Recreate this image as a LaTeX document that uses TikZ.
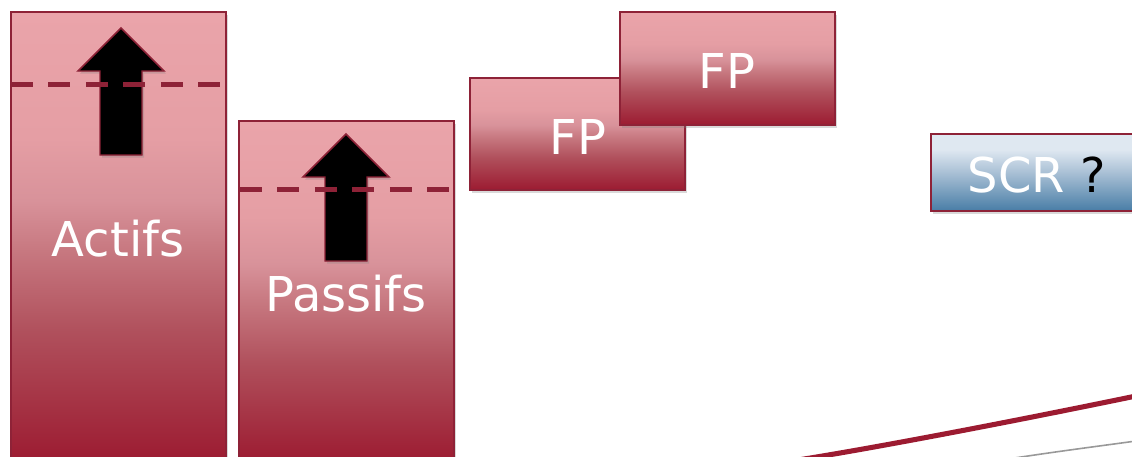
\documentclass[tikz,border=0pt]{standalone}
\usepackage{fontspec}
\setmainfont{DejaVu Sans}
\usetikzlibrary{shadows}

\definecolor{pinktop}{HTML}{EAA4AA}
\definecolor{pinkhigh}{HTML}{E59EA4}
\definecolor{pinklow}{HTML}{D8929A}
\definecolor{pinkmid}{HTML}{C77880}
\definecolor{rosedeep}{HTML}{B0505C}
\definecolor{wine}{HTML}{9C1B31}
\definecolor{edgered}{HTML}{8E2237}
\definecolor{bluetop}{HTML}{DFE8F1}
\definecolor{bluemid}{HTML}{A9C0D5}
\definecolor{bluebot}{HTML}{487DA6}

% pale at the top, then fading to deep red at the bottom
% (the filled path spans 25bp..75bp of the shading)
\pgfdeclareverticalshading{redfade}{100bp}{%
  color(0bp)=(wine); color(25bp)=(wine); color(39.5bp)=(rosedeep); color(48.5bp)=(pinkmid);
  color(54bp)=(pinklow); color(61bp)=(pinkhigh); color(75bp)=(pinktop); color(100bp)=(pinktop)}
\pgfdeclareverticalshading{bluefade}{100bp}{%
  color(0bp)=(bluebot); color(25bp)=(bluebot); color(50bp)=(bluemid); color(65bp)=(bluetop); color(100bp)=(bluetop)}

\tikzset{
  softshadow/.style={drop shadow={shadow xshift=1.5pt, shadow yshift=-2pt, opacity=0.3}},
  redbox/.style={draw=edgered, line width=1.2pt, shading=redfade, softshadow},
  bluebox/.style={draw=edgered, line width=1.2pt, shading=bluefade, softshadow},
  uparrow/.style={fill=black, draw=edgered, line width=1.1pt, line join=miter, softshadow},
  level/.style={draw=edgered, line width=3.75pt, dash pattern=on 16.5pt off 11.6pt},
  lbl/.style={text=white, font=\fontsize{36}{40}\selectfont, anchor=base, inner sep=0pt},
}

\begin{document}
\begin{tikzpicture}[x=0.75pt, y=-0.75pt]
  \useasboundingbox (0,0) rectangle (1132,457);
  \clip (0,0) rectangle (1132,457);

  % assets column with its rising level
  \path[redbox] (11,12) rectangle (226,462);
  \path[uparrow] (121,28) -- (164,71) -- (142,71) -- (142,155) -- (100,155) -- (100,71) -- (78,71) -- cycle;
  \draw[level] (11,84) -- (222,84);
  \node[lbl] (actifs) at (118,256) {Actifs};

  % liabilities column with its rising level
  \path[redbox] (239,121) rectangle (454,462);
  \path[uparrow] (346,134) -- (389,177) -- (367,177) -- (367,261) -- (325,261) -- (325,177) -- (303,177) -- cycle;
  \draw[level] (240,189) -- (452,189);
  \node[lbl] (passifs) at (346,311) {Passifs};

  % own funds, before and after
  \path[redbox] (470,78) rectangle (685,190);
  \node[lbl] (fpA) at (578,154) {FP};
  \path[redbox] (620,12) rectangle (835,125);
  \node[lbl] (fpB) at (727,88) {FP};

  % capital requirement
  \path[bluebox] (931,134) rectangle (1160,211);
  \node[lbl] (scr) at (1037,192) {SCR \textcolor{black}{?}};

  % curves
  \draw[wine, line width=3.8pt] (798,460) .. controls (880,447) and (1020,420) .. (1136,396);
  \draw[gray!80, line width=1.2pt] (1008,459) .. controls (1060,451) and (1100,446) .. (1136,441);
\end{tikzpicture}
\end{document}
